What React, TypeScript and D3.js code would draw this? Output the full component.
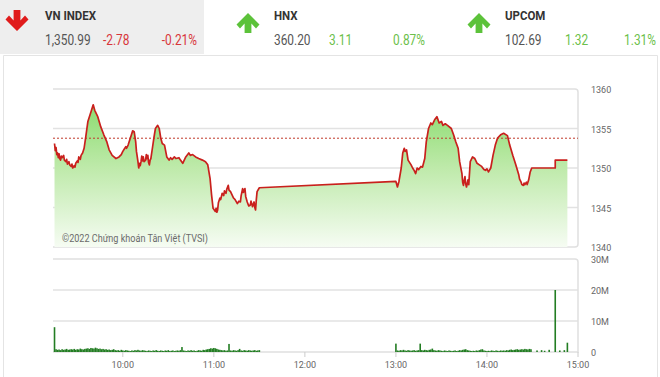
import React from 'react';
import * as d3 from 'd3';

const W = 660;
const H = 377;

const indexNames = ["VN INDEX", "HNX", "UPCOM"];
const indexValues = ["1,350.99", "360.20", "102.69"];
const indexChanges = ["-2.78", "3.11", "1.32"];
const indexPercents = ["-0.21%", "0.87%", "1.31%"];
const indexUp = [false, true, true];

const priceTicks = [1340, 1345, 1350, 1355, 1360];
const volumeTicks = [0, 10, 20, 30];
const volumeTickLabels = ["0", "10M", "20M", "30M"];
const timeTicks = ["10:00", "11:00", "12:00", "13:00", "14:00", "15:00"];
const referenceValue = 1353.77;
const copyright = "©2022 Chứng khoán Tân Việt (TVSI)";

const pricePoints: [string, number][] = [
  ["9:15", 1353.1], ["9:15:30", 1352.2], ["9:16", 1352.6], ["9:16:30", 1351.7], ["9:17", 1351.9],
  ["9:17:30", 1351.3], ["9:18", 1351.8], ["9:18:30", 1351.2], ["9:19", 1351.0], ["9:19:30", 1351.5],
  ["9:20", 1351.3], ["9:21", 1351.6], ["9:21:30", 1351.0], ["9:22:30", 1350.8], ["9:23", 1351.1],
  ["9:23:30", 1350.5], ["9:24:30", 1350.8], ["9:25", 1350.4], ["9:26", 1350.2], ["9:26:30", 1350.5],
  ["9:27", 1350.0], ["9:28", 1350.3], ["9:28:30", 1350.1], ["9:29", 1350.6], ["9:30", 1350.9],
  ["9:30:30", 1350.7], ["9:31", 1351.4], ["9:32", 1351.1], ["9:32:30", 1351.6], ["9:33:30", 1351.9],
  ["9:34:30", 1352.5], ["9:35:30", 1353.8], ["9:37", 1355.9], ["9:39", 1357.1], ["9:40:30", 1358.0],
  ["9:41:30", 1357.3], ["9:43:30", 1356.5], ["9:45:30", 1355.2], ["9:47:30", 1354.2], ["9:49:30", 1353.3],
  ["9:51", 1352.3], ["9:53", 1351.6], ["9:55:30", 1351.2], ["9:57:30", 1351.4], ["9:59", 1351.7],
  ["10:00", 1352.1], ["10:01", 1352.4], ["10:02", 1352.7], ["10:02:30", 1352.5], ["10:03:30", 1352.9],
  ["10:05", 1353.8], ["10:06:30", 1354.7], ["10:07:30", 1354.6], ["10:08:30", 1353.3], ["10:09", 1352.1],
  ["10:10", 1350.8], ["10:10:30", 1350.0], ["10:11", 1350.6], ["10:11:30", 1350.3], ["10:12", 1350.8],
  ["10:12:30", 1351.5], ["10:13", 1350.9], ["10:13:30", 1351.4], ["10:14", 1350.8], ["10:15", 1351.0],
  ["10:15:30", 1351.7], ["10:16", 1351.2], ["10:16:30", 1351.6], ["10:17", 1350.7], ["10:17:30", 1350.4],
  ["10:18", 1351.0], ["10:18:30", 1351.2], ["10:19:30", 1352.5], ["10:20:30", 1353.8],
  ["10:21:30", 1355.0], ["10:23", 1355.4], ["10:24", 1355.0], ["10:25", 1353.8], ["10:26", 1353.1],
  ["10:27:30", 1352.9], ["10:29", 1351.4], ["10:30:30", 1351.0], ["10:31:30", 1351.3], ["10:32:30", 1351.1],
  ["10:34", 1351.4], ["10:35", 1351.2], ["10:37", 1351.3], ["10:38", 1351.0], ["10:39:30", 1350.6],
  ["10:41:30", 1351.4], ["10:43:30", 1351.9], ["10:44:30", 1351.6], ["10:46", 1351.7], ["10:48", 1351.4],
  ["10:50", 1351.2], ["10:52:30", 1351.0], ["10:54:30", 1350.8], ["10:56", 1350.4],
  ["10:57:30", 1348.7], ["10:58:30", 1346.6], ["10:59:30", 1344.9], ["11:01", 1344.5], ["11:01:30", 1344.9],
  ["11:02", 1344.4], ["11:02:30", 1344.7], ["11:03", 1345.6], ["11:04", 1346.2], ["11:04:30", 1346.0],
  ["11:05:30", 1346.8], ["11:06:30", 1346.5], ["11:07", 1347.1], ["11:08", 1346.8], ["11:08:30", 1347.3],
  ["11:09:30", 1347.8], ["11:10", 1347.2], ["11:11", 1347.0], ["11:12", 1346.6], ["11:13", 1346.2],
  ["11:14", 1346.0], ["11:15:30", 1345.5], ["11:16:30", 1345.8], ["11:17:30", 1345.7], ["11:18", 1346.5],
  ["11:19", 1347.4], ["11:19:30", 1346.9], ["11:20:30", 1347.4], ["11:21", 1346.4], ["11:22", 1345.7],
  ["11:23", 1345.2], ["11:24", 1345.3], ["11:24:30", 1345.8], ["11:25:30", 1345.1], ["11:26:30", 1345.7],
  ["11:27", 1345.0], ["11:27:30", 1344.7], ["11:28", 1346.0], ["11:28:30", 1347.0], ["11:30", 1347.5],
  ["13:00", 1348.3], ["13:01", 1347.6], ["13:02", 1348.3], ["13:03:30", 1350.0], ["13:04:30", 1351.9],
  ["13:05:30", 1352.5], ["13:06", 1352.1], ["13:07", 1352.3], ["13:08", 1351.0], ["13:10", 1350.4],
  ["13:11", 1350.0], ["13:12", 1349.7], ["13:13", 1349.3], ["13:14", 1350.0], ["13:15", 1349.8],
  ["13:16:30", 1350.2], ["13:17:30", 1350.1], ["13:19", 1351.2], ["13:20", 1353.3], ["13:21:30", 1355.0],
  ["13:23", 1355.7], ["13:24", 1355.5], ["13:25:30", 1356.1], ["13:27", 1356.5], ["13:28:30", 1355.7],
  ["13:30", 1355.9], ["13:31", 1355.4], ["13:32:30", 1355.6], ["13:34", 1355.4], ["13:36:30", 1355.0],
  ["13:38", 1354.2], ["13:39:30", 1353.3], ["13:41", 1352.5], ["13:42", 1350.8], ["13:43", 1349.8],
  ["13:43:30", 1349.3], ["13:44", 1348.2], ["13:44:30", 1347.8], ["13:45", 1348.4], ["13:45:30", 1348.9],
  ["13:46", 1348.0], ["13:46:30", 1347.6], ["13:47", 1348.0], ["13:47:30", 1348.5], ["13:48", 1347.9],
  ["13:49", 1350.8], ["13:50:30", 1351.4], ["13:52", 1351.2], ["13:53:30", 1350.6], ["13:55", 1350.4],
  ["13:56:30", 1350.2], ["13:58", 1349.8], ["13:59", 1349.7], ["14:00", 1349.9], ["14:01", 1349.5],
  ["14:02:30", 1350.0], ["14:04", 1351.6], ["14:05:30", 1352.9], ["14:07", 1353.8], ["14:09", 1354.2],
  ["14:11", 1354.4], ["14:13:30", 1354.1], ["14:15", 1352.9], ["14:17", 1351.6], ["14:19", 1350.4],
  ["14:21", 1349.1], ["14:21:30", 1348.6], ["14:22:30", 1348.2], ["14:23", 1347.9], ["14:24", 1347.8],
  ["14:24:30", 1348.1], ["14:25", 1347.9], ["14:26", 1348.2], ["14:26:30", 1347.9], ["14:27:30", 1348.5],
  ["14:28:30", 1349.5], ["14:29:30", 1350.0], ["14:45", 1350.0], ["14:45", 1351.0], ["14:53", 1350.99],
];

// per-minute volumes, millions
const morningStart = "9:15";
const morningVolumes = [
  8.0,
  0.9, 0.7, 0.8, 0.6, 0.9, 0.7, 0.8, 1.0, 0.7, 0.8,
  0.9, 0.8, 1.0, 0.7, 0.9, 0.8, 1.1, 0.9, 0.8, 1.0,
  1.1, 1.2, 1.0, 1.3, 1.2, 1.1, 1.4, 1.2, 1.0, 1.1,
  0.9, 1.0, 0.8, 0.9, 0.7, 0.8, 0.6, 0.7, 0.9, 0.6,
  0.5, 0.6, 0.4, 0.7, 0.5, 0.4, 0.6, 0.5, 0.4, 0.3,
  0.5, 0.4, 0.6, 0.5, 0.7, 0.5, 0.4, 0.6, 0.5, 0.4,
  0.3, 0.5, 0.4, 0.3, 0.5, 0.4, 0.6, 0.4, 0.3, 0.5,
  0.4, 0.3, 0.5, 0.4, 0.6, 0.3, 0.4, 0.5, 0.3, 0.4,
  0.5, 0.4, 0.6, 1.6, 0.5, 0.4, 0.3, 0.5, 0.4, 0.6,
  0.4, 0.5, 0.3, 0.4, 0.6, 0.5, 0.4, 0.7, 0.6, 0.8,
  0.9, 1.0, 1.2, 1.1, 1.3, 1.2, 1.0, 0.8, 0.7, 0.6,
  0.5, 0.6, 0.4, 0.5, 2.6, 0.5, 0.4, 0.6, 0.5, 0.4,
  0.6, 1.0, 0.5, 0.4, 0.6, 0.5, 0.4, 0.6, 0.5, 0.4,
  0.5, 0.6, 0.4, 0.5, 0.6,
];
const afternoonStart = "13:00";
const afternoonVolumes = [
  2.7,
  0.5, 0.4, 0.6, 0.5, 0.7, 0.5, 0.4, 0.6, 0.5, 0.4,
  0.5, 0.6, 0.4, 0.5, 0.6, 2.7, 0.6, 0.5, 0.7, 0.6,
  0.5, 0.7, 0.8, 1.1, 0.6, 0.5, 0.4, 0.6, 0.5, 0.4,
  0.3, 0.5, 0.4, 0.3, 0.5, 0.4, 0.3, 0.4, 0.5, 0.3,
  0.4, 0.6, 0.5, 0.7, 0.8, 0.9, 0.6, 0.5, 0.4, 0.3,
  0.4, 0.3, 0.5, 0.4, 0.6, 0.8, 0.9, 0.5, 0.4, 0.3,
  0.4, 0.3, 0.5, 0.4, 0.3, 0.5, 0.4, 0.3, 0.5, 0.4,
  0.5, 0.4, 0.6, 0.5, 0.7, 0.8, 0.6, 0.7, 0.8, 0.9,
  0.7, 0.8, 0.9, 0.8, 1.0, 0.9, 0.8, 1.0, 0.9,
];
const lateVolumes: [string, number][] = [
  ["14:33", 0.5], ["14:36", 0.6], ["14:38", 0.4], ["14:41", 0.7],
  ["14:45", 20.0], ["14:48", 0.5], ["14:51", 0.6], ["14:53", 3.0],
];

const parse = (s: string) => {
  const p = s.split(':').map(Number);
  return new Date(2022, 0, 3, p[0], p[1], p[2] || 0);
};

function arrowPath(cx: number, top: number, bottom: number, up: boolean) {
  const h = bottom - top;
  const pts: [number, number][] = [
    [cx - 3.4, 0], [cx + 3.4, 0], [cx + 3.4, h - 10.5], [cx + 8, h - 15.5],
    [cx + 11.5, h - 11.5], [cx, h], [cx - 11.5, h - 11.5], [cx - 8, h - 15.5], [cx - 3.4, h - 10.5],
  ];
  const mapped = pts.map(([px, py]) => [px, up ? bottom - py : top + py]);
  return 'M' + mapped.map(p => p.join(',')).join('L') + 'Z';
}

export default function App() {
  const x = d3.scaleTime().domain([parse("9:14"), parse("15:00")]).range([53, 578]);
  const y = d3.scaleLinear().domain([1340, 1360]).range([247, 89]);
  const yv = d3.scaleLinear().domain([0, 30]).range([352, 259]);

  const pts = pricePoints.map(([t, v]) => ({ t: parse(t), v }));
  const line = d3.line<{ t: Date; v: number }>().x(d => x(d.t)).y(d => y(d.v));
  const area = d3.area<{ t: Date; v: number }>().x(d => x(d.t)).y0(y(1340)).y1(d => y(d.v));

  const vols: { t: Date; v: number }[] = [];
  morningVolumes.forEach((v, i) => vols.push({ t: d3.timeMinute.offset(parse(morningStart), i), v }));
  afternoonVolumes.forEach((v, i) => vols.push({ t: d3.timeMinute.offset(parse(afternoonStart), i), v }));
  lateVolumes.forEach(([t, v]) => vols.push({ t: parse(t), v }));

  const left = 53, right = 578;
  const font = "Roboto, sans-serif";
  const colX = [45, 274, 505];
  const changeX = [103, 329, 565];
  const pctEnd = [197, 425, 656];
  const arrowX = [17, 248, 479];
  const red = "#d8363a";
  const green = "#6cbf4a";
  const sx = 0.85;

  return (
    <div style={{ position: 'absolute', left: 0, top: 0 }}>
      <svg width={W} height={H} style={{ display: 'block', background: '#fff' }}>
        <defs>
          <linearGradient id="areaGrad" gradientUnits="userSpaceOnUse" x1="0" y1={y(1358)} x2="0" y2={y(1340)}>
            <stop offset="0" stopColor="#8cdc70" />
            <stop offset="0.45" stopColor="#bfeaab" />
            <stop offset="1" stopColor="#f6fcf3" />
          </linearGradient>
        </defs>

        {/* header */}
        <rect x={0} y={0} width={204} height={54} fill="#eeeeee" />
        {indexNames.map((name, i) => (
          <g key={name}>
            <path d={arrowPath(arrowX[i], indexUp[i] ? 13 : 10, indexUp[i] ? 33 : 31, indexUp[i])}
              fill={indexUp[i] ? "#5cc23a" : "#e01b1b"} />
            <text transform={`translate(${colX[i]},20) scale(${sx},1)`} fontFamily={font} fontWeight={700}
              fontSize={13.5} fill="#333">{name}</text>
            <text transform={`translate(${colX[i]},44.5) scale(${sx},1)`} fontFamily={font}
              fontSize={14} fill="#555">{indexValues[i]}</text>
            <text transform={`translate(${changeX[i]},44.5) scale(${sx},1)`} fontFamily={font}
              fontSize={14} fill={indexUp[i] ? green : red}>{indexChanges[i]}</text>
            <text transform={`translate(${pctEnd[i]},44.5) scale(${sx},1)`} fontFamily={font} textAnchor="end"
              fontSize={14} fill={indexUp[i] ? green : red}>{indexPercents[i]}</text>
          </g>
        ))}

        {/* container */}
        <path d={`M3.5,${H} V55.5 H657.5 V${H}`} fill="none" stroke="#e4e4e4" strokeWidth={1} />

        {/* price panel grid */}
        {priceTicks.slice(1, -1).map(v => (
          <line key={v} x1={left} x2={right} y1={y(v)} y2={y(v)} stroke="#e2e2e2" strokeWidth={1.5} />
        ))}
        <path d={`M${left},${y(1360)} H${right - 3} Q${right},${y(1360)} ${right},${y(1360) + 3} V${y(1340) - 3} Q${right},${y(1340)} ${right - 3},${y(1340)} H${left}`}
          fill="none" stroke="#e0e0e0" strokeWidth={1.5} />

        <path d={area(pts) || ''} fill="url(#areaGrad)" />
        <line x1={left} x2={right} y1={y(referenceValue)} y2={y(referenceValue)}
          stroke="#c0392b" strokeWidth={1} strokeDasharray="2,2" />
        <path d={line(pts) || ''} fill="none" stroke="#c9201d" strokeWidth={1.7} strokeLinejoin="round" />

        {priceTicks.map(v => (
          <text key={v} x={591} y={y(v) + 4} fontFamily={font} fontSize={9} fill="#666">{v}</text>
        ))}
        <text x={62} y={242} fontFamily={font} fontSize={10} fill="#6a6a6a"
          textLength={146} lengthAdjust="spacingAndGlyphs">{copyright}</text>

        {/* volume panel */}
        {volumeTicks.slice(1, -1).map(v => (
          <line key={v} x1={left} x2={right} y1={yv(v)} y2={yv(v)} stroke="#e2e2e2" strokeWidth={1.5} />
        ))}
        <path d={`M${left},${yv(30)} H${right - 3} Q${right},${yv(30)} ${right},${yv(30) + 3} V${yv(0)} H${left}`}
          fill="none" stroke="#e0e0e0" strokeWidth={1.5} />
        {vols.map((d, i) => (
          <rect key={i} x={x(d.t) - 0.8} y={yv(d.v)} width={1.6} height={yv(0) - yv(d.v)} fill="#237d23" />
        ))}
        {volumeTicks.map((v, i) => (
          <text key={v} x={591} y={yv(v) + 4} fontFamily={font} fontSize={9} fill="#666">{volumeTickLabels[i]}</text>
        ))}

        {/* time axis */}
        {timeTicks.map(t => (
          <g key={t}>
            <line x1={x(parse(t))} x2={x(parse(t))} y1={352} y2={357} stroke="#ccc" strokeWidth={1} />
            <text x={x(parse(t))} y={368} textAnchor="middle" fontFamily={font} fontSize={9} fill="#666">{t}</text>
          </g>
        ))}
      </svg>
    </div>
  );
}
